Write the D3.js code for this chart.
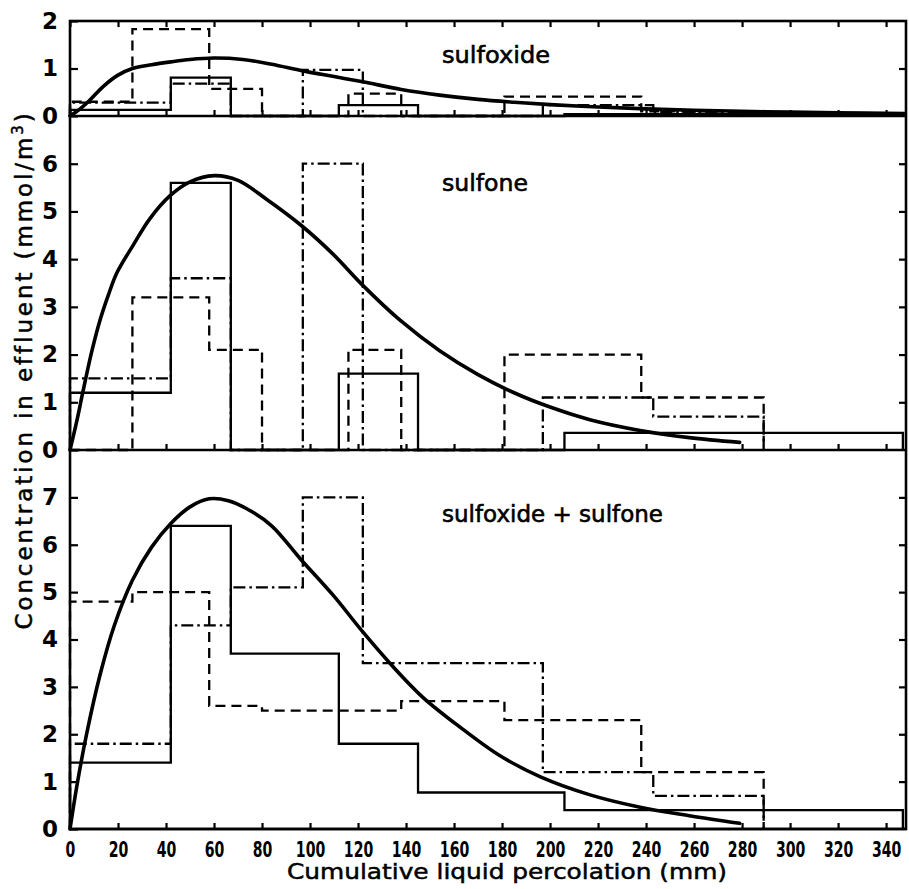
<!DOCTYPE html>
<html><head><meta charset="utf-8">
<script src="https://cdn.jsdelivr.net/npm/d3@7"></script>
<style>body{margin:0;background:#fff} svg{display:block}</style>
</head><body>
<svg id="c" width="909" height="889"></svg>
<script>
// ---------- data ----------
const xTicks = d3.range(0, 341, 20);
const sulfoxideTicks = [0, 1, 2];
const sulfoneTicks = [0, 1, 2, 3, 4, 5, 6];
const totalTicks = [0, 1, 2, 3, 4, 5, 6, 7];

const solidEdges   = [0, 42, 67, 112, 145, 206, 347];
const dashedEdges  = [0, 26, 58, 80, 116, 138, 181, 238, 289];
const dashdotEdges = [0, 42, 67, 97, 122, 197, 243, 289];

const sulfoxideSolid   = [0.13, 0.81, 0, 0.23, 0, 0.04];
const sulfoxideDashed  = [0.3, 1.83, 0.57, 0, 0.47, 0, 0.41, 0.1];
const sulfoxideDashdot = [0.28, 0.68, 0, 0.97, 0, 0.23, 0.08];

const sulfoneSolid   = [1.2, 5.6, 0, 1.6, 0, 0.36];
const sulfoneDashed  = [0, 3.2, 2.1, 0, 2.1, 0, 2.0, 1.1];
const sulfoneDashdot = [1.5, 3.6, 0, 6.0, 0, 1.1, 0.7];

const totalSolid   = [1.4, 6.4, 3.7, 1.8, 0.77, 0.4];
const totalDashed  = [4.8, 5.0, 2.6, 2.5, 2.5, 2.7, 2.3, 1.2];
const totalDashdot = [1.8, 4.3, 5.1, 7.0, 3.5, 1.2, 0.7];

const sulfoxideCurveX = [0, 4, 8, 13.8, 20, 26, 34, 42, 50, 60, 72, 84, 97, 110, 122, 138, 154, 170, 185, 200, 220, 240, 260, 290, 320, 348];
const sulfoxideCurveY = [0, 0.14, 0.32, 0.62, 0.86, 1.0, 1.08, 1.14, 1.19, 1.22, 1.19, 1.09, 0.95, 0.83, 0.72, 0.56, 0.44, 0.35, 0.29, 0.24, 0.19, 0.15, 0.12, 0.09, 0.07, 0.05];

const sulfoneCurveX = [0, 2.8, 5.3, 9, 12.5, 16, 19.4, 26.4, 33.3, 41.7, 50, 60, 70, 82, 96.5, 109.7, 122, 137.5, 154, 170, 185, 200, 217, 237.5, 258, 279];
const sulfoneCurveY = [0, 0.6, 1.2, 2.05, 2.72, 3.25, 3.7, 4.3, 4.85, 5.33, 5.62, 5.75, 5.65, 5.25, 4.7, 4.1, 3.45, 2.72, 2.08, 1.58, 1.2, 0.9, 0.63, 0.41, 0.26, 0.16];

const totalCurveX = [0, 3, 6.9, 12.5, 18.5, 26, 34, 42, 50, 58, 66, 74, 84, 96, 109.7, 122, 134.7, 147, 162.5, 179, 196, 216.7, 237.5, 258, 279];
const totalCurveY = [0, 0.95, 2.0, 3.25, 4.3, 5.25, 5.95, 6.45, 6.8, 6.97, 6.93, 6.75, 6.4, 5.7, 4.93, 4.16, 3.42, 2.78, 2.15, 1.55, 1.1, 0.72, 0.46, 0.28, 0.12];

const panelLabels = ["sulfoxide", "sulfone", "sulfoxide + sulfone"];

// ---------- layout ----------
const svg = d3.select("#c");
const left = 70, right = 906;
const x = d3.scaleLinear().domain([0, 348.3]).range([left, right]);

const panels = [
  {max: 2, top: 21, bottom: 116, ticks: sulfoxideTicks, solid: sulfoxideSolid, dashed: sulfoxideDashed, dashdot: sulfoxideDashdot, cx: sulfoxideCurveX, cy: sulfoxideCurveY, label: panelLabels[0], ly: 63, lw: 108},
  {max: 7, top: 116, bottom: 450, ticks: sulfoneTicks, solid: sulfoneSolid, dashed: sulfoneDashed, dashdot: sulfoneDashdot, cx: sulfoneCurveX, cy: sulfoneCurveY, label: panelLabels[1], ly: 191, lw: 86},
  {max: 8, top: 450, bottom: 829, ticks: totalTicks, solid: totalSolid, dashed: totalDashed, dashdot: totalDashdot, cx: totalCurveX, cy: totalCurveY, label: panelLabels[2], ly: 522, lw: 221}
];

function stepPoints(edges, vals) {
  const pts = [[edges[0], 0]];
  vals.forEach((v, i) => { pts.push([edges[i], v]); pts.push([edges[i + 1], v]); });
  pts.push([edges[edges.length - 1], 0]);
  return pts;
}

panels.forEach((p, pi) => {
  const y = d3.scaleLinear().domain([0, p.max]).range([p.bottom, p.top]);
  const g = svg.append("g");
  const line = d3.line().x(d => x(d[0])).y(d => y(d[1]));

  const series = [
    {edges: dashedEdges, vals: p.dashed, dash: "10,6"},
    {edges: dashdotEdges, vals: p.dashdot, dash: "12,4,2.5,4"},
    {edges: solidEdges, vals: p.solid, dash: null}
  ];
  series.forEach(s => {
    g.append("path")
      .attr("d", line(stepPoints(s.edges, s.vals)))
      .attr("fill", "none").attr("stroke", "#000")
      .attr("stroke-width", 2.3)
      .attr("stroke-dasharray", s.dash);
  });

  const curve = d3.line().x(d => x(d[0])).y(d => y(d[1])).curve(d3.curveCatmullRom.alpha(0.5));
  g.append("path")
    .attr("d", curve(p.cx.map((v, i) => [v, p.cy[i]])))
    .attr("fill", "none").attr("stroke", "#000")
    .attr("stroke-width", 3.6).attr("stroke-linecap", "round");

  // x ticks pointing up at panel bottom
  const xa = g.append("g").attr("transform", `translate(0,${p.bottom})`)
    .call(d3.axisBottom(x).tickValues(xTicks).tickSize(-6).tickPadding(12)
      .tickFormat(pi === 2 ? d3.format("d") : () => ""));
  xa.select(".domain").remove();
  xa.selectAll("line").attr("stroke-width", 2.2);
  if (pi === 2) {
    xa.selectAll("text")
      .attr("font-family", "'Liberation Sans Narrow','DejaVu Sans Condensed','DejaVu Sans',sans-serif")
      .attr("font-weight", "bold").attr("font-size", 22)
      .attr("fill", "#000")
      .attr("textLength", d => String(d).length * 9.8)
      .attr("lengthAdjust", "spacingAndGlyphs");
  }

  // left y axis
  const ya = g.append("g").attr("transform", `translate(${left},0)`)
    .call(d3.axisLeft(y).tickValues(p.ticks).tickSize(-8).tickPadding(12).tickFormat(d3.format("d")));
  ya.select(".domain").remove();
  ya.selectAll("line").attr("stroke-width", 2.2);
  ya.selectAll("text")
    .attr("font-family", "'DejaVu Sans',sans-serif")
    .attr("font-weight", "bold").attr("font-size", 23).attr("fill", "#000");

  // right y ticks
  const ra = g.append("g").attr("transform", `translate(${right},0)`)
    .call(d3.axisRight(y).tickValues(d3.range(1, p.max)).tickSize(-7).tickFormat(() => ""));
  ra.select(".domain").remove();
  ra.selectAll("line").attr("stroke-width", 2.2);

  // panel label
  g.append("text").attr("x", 442).attr("y", p.ly)
    .attr("font-family", "'DejaVu Sans',sans-serif").attr("font-size", 23)
    .attr("stroke", "#000").attr("stroke-width", 0.6)
    .attr("textLength", p.lw).attr("lengthAdjust", "spacingAndGlyphs")
    .text(p.label);

  // separator line at panel bottom
  svg.append("line").attr("x1", left).attr("x2", right)
    .attr("y1", p.bottom).attr("y2", p.bottom)
    .attr("stroke", "#000").attr("stroke-width", 2.6);
});

// top x ticks pointing down
const ta = svg.append("g").attr("transform", `translate(0,21)`)
  .call(d3.axisTop(x).tickValues(xTicks).tickSize(-6).tickFormat(() => ""));
ta.select(".domain").remove();
ta.selectAll("line").attr("stroke-width", 2.2);

// frame
svg.append("rect").attr("x", left).attr("y", 21).attr("width", right - left).attr("height", 829 - 21)
  .attr("fill", "none").attr("stroke", "#000").attr("stroke-width", 2.6);

// axis titles
svg.append("text").attr("x", 507).attr("y", 879)
  .attr("text-anchor", "middle")
  .attr("font-family", "'DejaVu Sans',sans-serif").attr("font-size", 21)
  .attr("stroke", "#000").attr("stroke-width", 0.5)
  .attr("textLength", 440).attr("lengthAdjust", "spacingAndGlyphs")
  .text("Cumulative liquid percolation (mm)");

const yt = svg.append("text")
  .attr("transform", "translate(32,370) rotate(-90)")
  .attr("text-anchor", "middle")
  .attr("font-family", "'DejaVu Sans',sans-serif").attr("font-size", 23)
  .attr("letter-spacing", 2.9)
  .attr("stroke", "#000").attr("stroke-width", 0.5);
yt.append("tspan").text("Concentration in effluent (mmol/m");
yt.append("tspan").attr("font-size", 15).attr("dy", -9).text("3");
yt.append("tspan").attr("dy", 9).text(")");
</script>
</body></html>
